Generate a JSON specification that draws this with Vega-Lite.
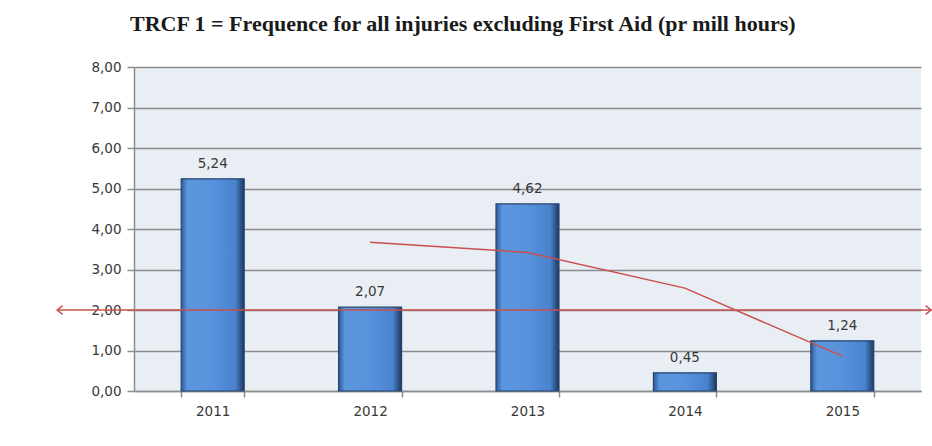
{
  "$schema": "https://vega.github.io/schema/vega-lite/v6.json",
  "width": 787,
  "height": 324,
  "autosize": {"type": "none"},
  "padding": {"left": 134, "top": 67, "right": 11, "bottom": 55},
  "background": "white",
  "title": {
    "text": "TRCF 1 = Frequence for all injuries excluding First Aid (pr mill hours)",
    "font": "Liberation Serif",
    "fontSize": 22,
    "fontWeight": "bold",
    "color": "#1a1a1a",
    "anchor": "start",
    "frame": "group",
    "dx": -4,
    "offset": 24
  },
  "config": {
    "locale": {"number": {"decimal": ",", "thousands": " ", "grouping": [3], "currency": ["", " kr"]}},
    "view": {"stroke": null, "fill": "#e9edf4"},
    "axis": {
      "labelFont": "DejaVu Sans",
      "labelFontSize": 13.5,
      "labelColor": "#383838",
      "domainColor": "#8c8c8c",
      "tickColor": "#8c8c8c",
      "gridColor": "#8c8c8c",
      "domainWidth": 1.5,
      "tickWidth": 1.5,
      "gridWidth": 1.5,
      "title": null
    }
  },
  "datasets": {
    "bars": [
      {"year": "2011", "value": 5.24},
      {"year": "2012", "value": 2.07},
      {"year": "2013", "value": 4.62},
      {"year": "2014", "value": 0.45},
      {"year": "2015", "value": 1.24}
    ],
    "trend": [
      {"year": "2012", "trend": 3.67},
      {"year": "2013", "trend": 3.42},
      {"year": "2014", "trend": 2.54},
      {"year": "2015", "trend": 0.86}
    ],
    "target": [
      {"year": "2011", "to": "2015", "target": 2}
    ]
  },
  "layer": [
    {
      "data": {"name": "bars"},
      "mark": {
        "type": "bar",
        "stroke": "#24436f",
        "strokeWidth": 1.2,
        "fill": {
          "gradient": "linear",
          "x1": 0, "y1": 0, "x2": 1, "y2": 0,
          "stops": [
            {"offset": 0, "color": "#2d5a99"},
            {"offset": 0.1, "color": "#5b97de"},
            {"offset": 0.5, "color": "#5892dc"},
            {"offset": 0.86, "color": "#4a83cd"},
            {"offset": 1, "color": "#1d3860"}
          ]
        }
      },
      "encoding": {
        "x": {
          "field": "year",
          "type": "nominal",
          "scale": {"paddingInner": 0.6, "paddingOuter": 0.3},
          "axis": {"labelAngle": 0, "tickBand": "extent", "tickSize": 6, "labelPadding": 7, "grid": false}
        },
        "y": {
          "field": "value",
          "type": "quantitative",
          "scale": {"domain": [0, 8], "nice": false},
          "axis": {"values": [0, 1, 2, 3, 4, 5, 6, 7, 8], "format": ".2f", "tickSize": 7, "labelPadding": 6, "grid": true}
        }
      }
    },
    {
      "data": {"name": "bars"},
      "mark": {"type": "text", "font": "DejaVu Sans", "fontSize": 13.5, "color": "#383838", "baseline": "alphabetic", "dy": -11},
      "encoding": {
        "x": {"field": "year", "type": "nominal"},
        "y": {"field": "value", "type": "quantitative"},
        "text": {"field": "value", "type": "quantitative", "format": ".2f"}
      }
    },
    {
      "data": {"name": "target"},
      "mark": {"type": "rule", "color": "#c9504c", "strokeWidth": 1.5},
      "encoding": {
        "x": {"field": "year", "type": "nominal", "bandPosition": -1.97},
        "x2": {"field": "to", "bandPosition": 1.91},
        "y": {"field": "target", "type": "quantitative"}
      }
    },
    {
      "data": {"name": "target"},
      "mark": {"type": "point", "shape": "M1,-0.8L0,0L1,0.8", "filled": false, "stroke": "#c9504c", "strokeWidth": 1.5, "size": 120, "opacity": 1},
      "encoding": {
        "x": {"field": "year", "type": "nominal", "bandPosition": -1.97},
        "y": {"field": "target", "type": "quantitative"}
      }
    },
    {
      "data": {"name": "target"},
      "mark": {"type": "point", "shape": "M-1,-0.8L0,0L-1,0.8", "filled": false, "stroke": "#c9504c", "strokeWidth": 1.5, "size": 120, "opacity": 1},
      "encoding": {
        "x": {"field": "to", "type": "nominal", "bandPosition": 1.91},
        "y": {"field": "target", "type": "quantitative"}
      }
    },
    {
      "data": {"name": "trend"},
      "mark": {"type": "line", "color": "#c9504c", "strokeWidth": 1.5},
      "encoding": {
        "x": {"field": "year", "type": "nominal"},
        "y": {"field": "trend", "type": "quantitative"}
      }
    }
  ]
}
